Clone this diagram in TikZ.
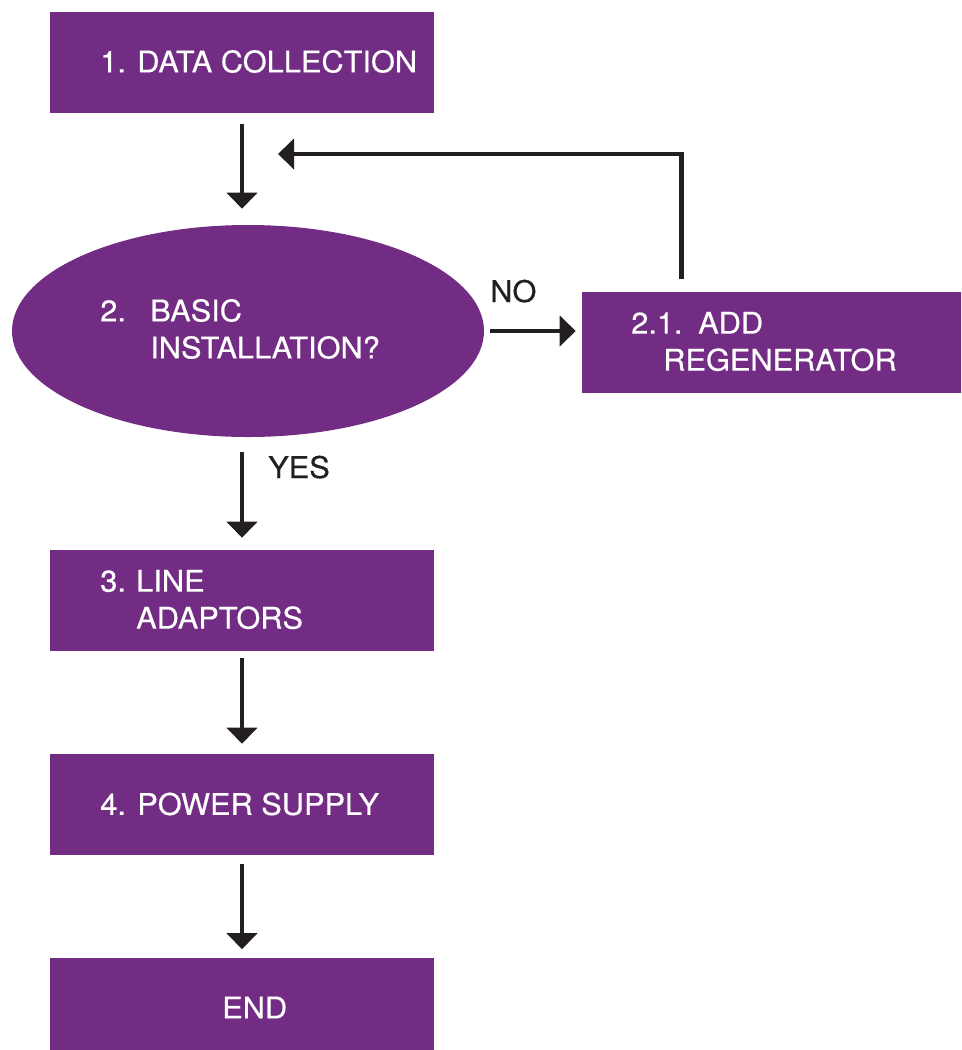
\documentclass[tikz,border=0pt]{standalone}
\usepackage{fontspec}
\setmainfont{TeX Gyre Heros}[FakeStretch=1.03,FakeBold=0.5]
\usepackage{tikz}
\usetikzlibrary{arrows.meta,calc,positioning,shapes.geometric}
\definecolor{flowpurple}{HTML}{722C83}
\definecolor{flowink}{HTML}{231F20}

\begin{document}
\begin{tikzpicture}[x=0.75pt,y=-0.75pt,
  box/.style={fill=flowpurple,draw=none,minimum width=288pt,minimum height=75.75pt,inner sep=0pt},
  txt/.style={text=white,font=\fontsize{22.4}{27.75}\selectfont,align=left,inner sep=0pt,anchor=west},
  lbl/.style={text=flowink,font=\fontsize{22.4}{27.75}\selectfont,inner sep=0pt,anchor=base west},
  arr/.style={-{Triangle[width=22.5pt,length=12pt]},color=flowink,line width=3.4pt}]
\useasboundingbox (0,0) rectangle (961,1050);
\clip (0,0) rectangle (961,1050);
\node[box] (A) at (242,62.5) {};
\node[ellipse,fill=flowpurple,minimum width=354pt,minimum height=159pt,inner sep=0pt] (B) at (248,331) {};
\node[box,minimum width=298.5pt] (C) at (781,342.5) {};
\node[box] (D) at (242,600.5) {};
\node[box] (E) at (242,804.5) {};
\node[box] (F) at (242,1008) {};
\node[txt] (At) at (100,61.5) {1. DATA COLLECTION};
\node[txt] (Bt) at (100,329) {\makebox[37.5pt][l]{2.}BASIC\\\hspace*{37.5pt}INSTALLATION?};
\node[txt] (Ct) at (631,341.5) {\makebox[50.25pt][l]{2.1.}ADD\\\hspace*{24pt}REGENERATOR};
\node[txt] (Dt) at (100,599.5) {\makebox[27pt][l]{3.}LINE\\\hspace*{27pt}ADAPTORS};
\node[txt] (Et) at (100,804) {4. POWER SUPPLY};
\node[txt] (Ft) at (222,1007.5) {END};
\node[lbl] (no) at (490,302) {NO};
\node[lbl] (yes) at (268,478) {YES};
\coordinate (G) at (278,154);
\path[arr]
(A.south) edge[shorten <=8.25pt,shorten >=12pt] (A.south |- B.north)
(B.east) edge[shorten <=4.5pt,shorten >=4.5pt] (C.west |- B.east)
(B.south -| D.north) edge[shorten <=11.25pt,shorten >=9pt] (D.north)
(D.south) edge[shorten <=5.25pt,shorten >=7.5pt] (E.north)
(E.south) edge[shorten <=6.75pt,shorten >=6pt] (F.north);
\draw[arr,shorten <=9.75pt] ($(C.north west)+(100,0)$) |- (G);
\end{tikzpicture}
\end{document}
